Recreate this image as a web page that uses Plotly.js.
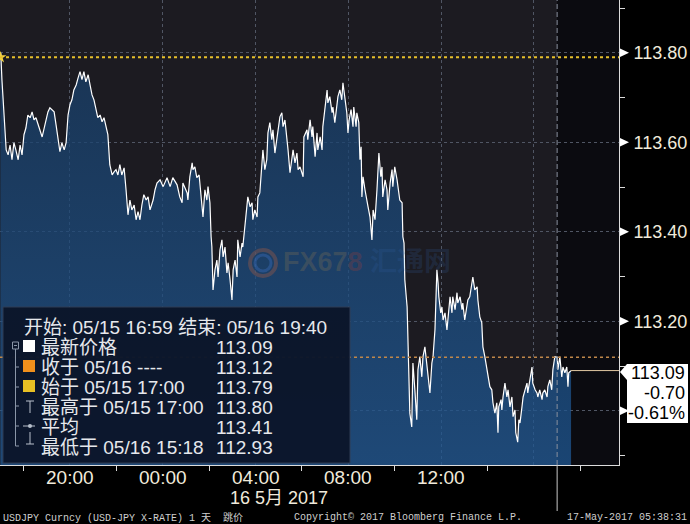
<!DOCTYPE html>
<html><head><meta charset="utf-8">
<script src="https://cdn.plot.ly/plotly-3.0.1.min.js"></script>
<style>html,body{margin:0;padding:0;background:#000;}#chart{width:690px;height:524px;}</style>
</head><body><div id="chart"></div>
<script>
// ---- data (USDJPY tick prices) ----
const day15Times = ['17:00','17:01','17:04','17:07','17:12','17:15','17:20','17:25','17:30','17:35','17:40','17:46','17:51','17:56',
 '18:01','18:06','18:11','18:17','18:22','18:27','18:32','18:37','18:42','18:48','18:53','18:58',
 '19:03','19:08','19:13','19:19','19:24','19:29','19:34','19:39','19:45','19:50','19:52','19:55',
 '20:00','20:05','20:10','20:16','20:21','20:26','20:31','20:36','20:41','20:47','20:52','20:57',
 '21:02','21:07','21:12','21:18','21:23','21:28','21:33','21:38','21:43','21:49','21:54','21:59',
 '22:04','22:09','22:14','22:20','22:25','22:30','22:35','22:40','22:46','22:51','22:56',
 '23:01','23:06','23:11','23:17','23:22','23:27','23:35','23:40','23:45','23:53'];
const day15Prices = [113.790,113.800,113.740,113.695,113.617,113.583,113.572,113.594,113.561,113.599,113.583,113.561,113.594,113.572,
 113.617,113.632,113.661,113.655,113.668,113.650,113.655,113.639,113.628,113.612,113.632,113.650,
 113.668,113.677,113.673,113.668,113.639,113.606,113.579,113.599,113.583,113.599,113.639,113.661,
 113.684,113.695,113.717,113.728,113.744,113.758,113.740,113.758,113.735,113.751,113.728,113.706,
 113.695,113.673,113.655,113.661,113.646,113.655,113.639,113.617,113.550,113.527,113.534,113.539,
 113.527,113.550,113.527,113.543,113.494,113.438,113.471,113.449,113.460,113.427,113.445,
 113.427,113.460,113.483,113.471,113.478,113.449,113.471,113.494,113.509,113.516];
const day16Times = ['00:01','00:11','00:19','00:26','00:37','00:44','00:50','00:52',
 '01:03','01:05','01:10','01:16','01:18','01:23','01:28','01:34','01:41','01:44','01:49','01:54','01:57',
 '02:02','02:05','02:07','02:10','02:15','02:20','02:23','02:28','02:33','02:36','02:41','02:46','02:49','02:54','02:59',
 '03:02','03:07','03:12','03:14','03:20','03:25','03:27','03:33','03:38','03:40','03:46','03:51','03:53','03:58',
 '04:04','04:06','04:11','04:17','04:19','04:24','04:29','04:32','04:37','04:42','04:45','04:50','04:55','04:58',
 '05:03','05:08','05:11','05:16','05:21','05:24','05:29','05:34','05:37','05:42','05:47','05:50','05:55',
 '06:03','06:05','06:13','06:15','06:21','06:26','06:28','06:34','06:39','06:41','06:47','06:52','06:54','06:59',
 '07:05','07:07','07:12','07:18','07:20','07:25','07:30','07:33','07:38','07:43','07:46','07:51','07:56','07:59',
 '08:02','08:07','08:12','08:14','08:20','08:22','08:27','08:30','08:33','08:35','08:38','08:43','08:48','08:51','08:56','08:58',
 '09:01','09:04','09:09','09:14','09:17','09:19','09:24','09:27','09:29','09:35','09:40','09:42','09:48','09:53','09:55',
 '10:00','10:06','10:08','10:13','10:19','10:21','10:24','10:26','10:32','10:34','10:39','10:44','10:47','10:52','10:57',
 '11:00','11:05','11:10','11:13','11:18','11:23','11:26','11:31','11:36','11:39','11:44','11:49','11:52','11:54','11:59',
 '12:02','12:05','12:10','12:15','12:18','12:23','12:28','12:30','12:36','12:41','12:43','12:49','12:54','12:56',
 '13:01','13:07','13:09','13:14','13:20','13:22','13:27','13:33','13:35','13:40','13:45','13:48','13:53','13:58',
 '14:01','14:06','14:11','14:14','14:19','14:24','14:27','14:29','14:35','14:37','14:40','14:45','14:50','14:53','14:58',
 '15:03','15:06','15:11','15:13','15:18','15:21','15:24','15:29','15:32','15:37','15:42','15:44','15:50','15:55','15:57',
 '16:03','16:08','16:10','16:15','16:21','16:23','16:28','16:34','16:36','16:41','16:46','16:49','16:54',
 '17:00','17:02','17:07','17:12','17:15','17:20','17:25','17:28','17:30','17:36'];
const day16Prices = [113.501,113.521,113.501,113.521,113.505,113.478,113.465,113.509,
 113.487,113.471,113.523,113.554,113.539,113.545,113.521,113.527,113.465,113.433,113.494,113.471,113.501,
 113.465,113.389,113.366,113.270,113.315,113.337,113.299,113.360,113.382,113.344,113.366,113.308,113.331,113.293,113.248,
 113.315,113.337,113.299,113.382,113.344,113.375,113.366,113.420,113.471,113.478,113.456,113.465,113.427,113.449,
 113.433,113.478,113.487,113.554,113.583,113.539,113.561,113.621,113.644,113.606,113.628,113.576,113.612,113.621,
 113.657,113.666,113.635,113.650,113.612,113.583,113.532,113.568,113.583,113.554,113.576,113.539,113.545,
 113.523,113.612,113.628,113.606,113.650,113.612,113.635,113.568,113.621,113.583,113.612,113.583,113.635,113.673,
 113.717,113.688,113.702,113.666,113.679,113.644,113.688,113.702,113.717,113.695,113.733,113.702,113.666,113.621,
 113.650,113.673,113.635,113.679,113.635,113.666,113.644,113.561,113.590,113.478,113.523,113.494,113.465,113.456,113.433,113.404,
 113.382,113.449,113.427,113.494,113.539,113.576,113.523,113.545,113.478,113.516,113.494,113.449,113.509,113.539,113.501,
 113.545,113.516,113.501,113.471,113.465,113.389,113.375,113.293,113.232,113.143,112.995,112.964,113.107,113.047,112.980,
 113.092,113.121,113.076,113.121,113.143,113.107,113.076,113.040,113.107,113.121,113.181,113.315,113.286,113.255,113.219,
 113.232,113.203,113.219,113.181,113.210,113.255,113.219,113.255,113.226,113.264,113.241,113.255,113.226,113.241,
 113.203,113.232,113.248,113.255,113.293,113.299,113.270,113.277,113.248,113.210,113.197,113.143,113.121,113.092,
 113.076,113.054,113.047,113.018,112.995,113.018,112.951,113.009,113.025,113.002,113.031,113.062,113.031,113.047,113.009,
 113.031,112.987,113.002,112.951,112.930,112.980,112.973,113.009,113.031,113.047,113.062,113.040,113.076,113.098,113.062,
 113.047,113.040,113.031,113.047,113.025,113.040,113.047,113.031,113.054,113.069,113.047,113.092,113.121,
 113.120,113.092,113.121,113.076,113.098,113.085,113.098,113.054,113.085,113.090];

const rangeStart = '2017-05-15 16:59';
const rangeEnd = '2017-05-16 19:40';
const sessionBreak = '2017-05-16 17:00';
const xGridTimes = ['2017-05-15 20:00','2017-05-16 00:00','2017-05-16 04:00','2017-05-16 08:00','2017-05-16 12:00','2017-05-16 16:00'];
const xLabelTimes = ['2017-05-15 20:00','2017-05-16 00:00','2017-05-16 04:00','2017-05-16 08:00','2017-05-16 12:00'];
const xLabelText = ['20:00','00:00','04:00','08:00','12:00'];
const xMinorTimes = ['2017-05-15 18:00','2017-05-15 22:00','2017-05-16 02:00','2017-05-16 06:00','2017-05-16 10:00','2017-05-16 14:00','2017-05-16 18:00'];
const yRange = [112.879, 113.918];
const yTickVals = [113.0, 113.2, 113.4, 113.6, 113.8];
const yTickText = ['', '113.20', '113.40', '113.60', '113.80'];
const yMinorVals = [112.9, 113.1, 113.3, 113.5, 113.7, 113.9];
const openPrice = 113.79, closePrice = 113.12, lastPrice = 113.09;
const tagLines = ['113.09', '-0.70', '-0.61%'];
const headerText = '开始: 05/15 16:59 结束: 05/16 19:40';
const legendLabels = ['最新价格', '收于 05/16 ----', '始于 05/15 17:00', '最高于 05/15 17:00', '平均', '最低于 05/16 15:18'];
const legendValues = ['113.09', '113.12', '113.79', '113.80', '113.41', '112.93'];
const dateLabel = '16 5月 2017';
const footerLeft = 'USDJPY Curncy (USD-JPY X-RATE) 1 天  跳价';
const footerMid = 'Copyright© 2017 Bloomberg Finance L.P.';
const footerRight = '17-May-2017 05:38:31';

const times = day15Times.map(t => '2017-05-15 ' + t).concat(day16Times.map(t => '2017-05-16 ' + t));
const prices = day15Prices.concat(day16Prices);

// ---- layout helpers (pixel -> paper) ----
const PW = 619, PH = 465;
const px = x => x / PW;
const py = y => (PH - y) / PH;
const FONT = '"Liberation Sans", "Noto Sans CJK SC", Arial, sans-serif';
const TXT = '#f0eadb';

const traces = [
  { x: times, y: prices, type: 'scatter', mode: 'lines', line: { color: '#ffffff', width: 1.2 },
    fill: 'tozeroy',
    fillgradient: { type: 'vertical', start: yRange[0], stop: yRange[1],
      colorscale: [[0, 'rgba(31,88,148,0.75)'], [1, 'rgba(24,58,96,0.75)']] },
    hoverinfo: 'skip' },
  { x: [times[0]], y: [prices[0]], type: 'scatter', mode: 'markers',
    marker: { symbol: 'star', size: 9, color: '#f2d040' }, hoverinfo: 'skip' }
];

const shapes = [];
shapes.push({ type: 'rect', xref: 'x', yref: 'paper', x0: sessionBreak, x1: rangeEnd, y0: 0, y1: 1,
  fillcolor: '#0b0b10', line: { width: 0 }, layer: 'below' });
shapes.push({ type: 'line', xref: 'x', yref: 'paper', x0: sessionBreak, x1: sessionBreak, y0: 0, y1: 1,
  line: { color: '#8a909e', width: 1, dash: '5px,3px' } });
shapes.push({ type: 'line', xref: 'x', yref: 'paper', x0: sessionBreak, x1: sessionBreak, y0: 0, y1: py(511),
  line: { color: '#c8c8c8', width: 1 } });
shapes.push({ type: 'line', xref: 'paper', yref: 'y', x0: 0, x1: 1, y0: openPrice, y1: openPrice,
  line: { color: '#e6c02c', width: 2, dash: 'dot' } });
shapes.push({ type: 'line', xref: 'paper', yref: 'y', x0: 0, x1: 1, y0: closePrice, y1: closePrice,
  line: { color: '#c0884a', width: 1.5, dash: 'dot' } });
shapes.push({ type: 'line', xref: 'x', yref: 'y', x0: times[times.length - 1], x1: rangeEnd, y0: lastPrice, y1: lastPrice,
  line: { color: '#e2c8a2', width: 1 } });
yTickVals.forEach(v => {
  shapes.push({ type: 'path', xref: 'paper', yref: 'y',
    path: `M${px(620)},${v - 0.0095} L${px(620)},${v + 0.0095} L${px(629)},${v} Z`,
    fillcolor: '#ffffff', line: { width: 0 } });
});
shapes.push({ type: 'path', xref: 'paper', yref: 'paper',
  path: `M${px(620)},${py(372)} L${px(627)},${py(364)} L${px(688)},${py(364)} L${px(688)},${py(423)} L${px(627)},${py(423)} L${px(627)},${py(380)} Z`,
  fillcolor: '#ffffff', line: { width: 0 } });
shapes.push({ type: 'rect', xref: 'paper', yref: 'paper', x0: px(3), x1: px(350), y0: py(463), y1: py(307),
  fillcolor: 'rgba(11,22,42,0.97)', line: { color: '#2e3c54', width: 1 } });
const TREE = '#8a96a8';
shapes.push({ type: 'rect', xref: 'paper', yref: 'paper', x0: px(12.5), x1: px(18.5), y0: py(349), y1: py(342),
  line: { color: TREE, width: 1 } });
shapes.push({ type: 'line', xref: 'paper', yref: 'paper', x0: px(14), x1: px(17), y0: py(345.5), y1: py(345.5), line: { color: TREE, width: 1 } });
shapes.push({ type: 'line', xref: 'paper', yref: 'paper', x0: px(15.5), x1: px(15.5), y0: py(349), y1: py(446), line: { color: TREE, width: 1 } });
[367, 387, 406, 426, 446].forEach(yy => shapes.push({ type: 'line', xref: 'paper', yref: 'paper',
  x0: px(15.5), x1: px(19), y0: py(yy), y1: py(yy), line: { color: TREE, width: 1 } }));
[['#ffffff', 340], ['#f0901c', 360], ['#e8c024', 380]].forEach(([c, yy]) => shapes.push({ type: 'rect',
  xref: 'paper', yref: 'paper', x0: px(23), x1: px(35), y0: py(yy + 12), y1: py(yy), fillcolor: c, line: { width: 0 } }));
const ICON = '#b8c0cc';
shapes.push({ type: 'line', xref: 'paper', yref: 'paper', x0: px(26), x1: px(34), y0: py(401), y1: py(401), line: { color: ICON, width: 1 } });
shapes.push({ type: 'line', xref: 'paper', yref: 'paper', x0: px(30), x1: px(30), y0: py(401), y1: py(413), line: { color: ICON, width: 1 } });
shapes.push({ type: 'line', xref: 'paper', yref: 'paper', x0: px(23), x1: px(35), y0: py(426), y1: py(426), line: { color: ICON, width: 1 } });
shapes.push({ type: 'circle', xref: 'paper', yref: 'paper', x0: px(28), x1: px(32), y0: py(428), y1: py(424), fillcolor: ICON, line: { width: 0 } });
shapes.push({ type: 'line', xref: 'paper', yref: 'paper', x0: px(30), x1: px(30), y0: py(432), y1: py(444), line: { color: ICON, width: 1 } });
shapes.push({ type: 'line', xref: 'paper', yref: 'paper', x0: px(26), x1: px(34), y0: py(444), y1: py(444), line: { color: ICON, width: 1 } });
shapes.push({ type: 'circle', xref: 'paper', yref: 'paper', x0: px(250), x1: px(276), y0: py(276), y1: py(250),
  line: { color: 'rgba(200,100,60,0.3)', width: 4 } });
shapes.push({ type: 'circle', xref: 'paper', yref: 'paper', x0: px(255), x1: px(271), y0: py(271), y1: py(255),
  line: { color: 'rgba(60,110,190,0.4)', width: 3 } });

const annotations = [];
const ann = (text, x, y, opts) => annotations.push(Object.assign({ text, xref: 'paper', yref: 'paper', x: px(x), y: py(y),
  xanchor: 'left', yanchor: 'middle', showarrow: false, font: { family: FONT, size: 19, color: '#e6e8ec' } }, opts || {}));
ann(headerText, 22, 327);
legendLabels.forEach((t, i) => ann(t, 39, 347 + i * 20));
legendValues.forEach((t, i) => ann(t, 214, 347 + i * 20));
tagLines.forEach((t, i) => ann(t, 687, 373 + i * 20, { xanchor: 'right', font: { family: FONT, size: 18, color: '#000000' } }));
// x tick labels placed on the date axis
xLabelTimes.forEach((t, i) => annotations.push({ text: xLabelText[i], xref: 'x', yref: 'paper', x: t, y: py(477),
  xanchor: 'center', yanchor: 'middle', showarrow: false, borderpad: 0, font: { family: FONT, size: 19, color: TXT } }));
ann(dateLabel, 279, 498, { xanchor: 'center', borderpad: 0, font: { family: FONT, size: 18, color: TXT } });
ann('<b><span style="color:rgba(150,125,80,0.5)">FX67</span><span style="color:rgba(170,60,50,0.55)">8</span> <span style="color:rgba(50,100,170,0.4)">汇通网</span></b>',
  281, 262, { font: { family: FONT, size: 27, color: 'rgba(150,125,80,0.5)' } });
const FOOT = { family: '"Liberation Mono", "Noto Sans CJK SC", monospace', size: 10, color: '#cfcfcf' };
ann(footerLeft, 1, 517, { font: FOOT });
ann(footerMid, 292, 517, { font: FOOT });
ann(footerRight, 689, 517, { xanchor: 'right', font: FOOT });

const GRID = '#505664';
const layout = {
  width: 690, height: 524,
  margin: { l: 0, r: 71, t: 0, b: 59, pad: 0 },
  paper_bgcolor: '#000000', plot_bgcolor: '#1c1b21',
  showlegend: false,
  xaxis: { type: 'date', range: [rangeStart, rangeEnd], tickmode: 'array', tickvals: xGridTimes,
    showticklabels: false, ticks: '', showgrid: true, gridcolor: GRID, griddash: '3px,3px', gridwidth: 1, zeroline: false,
    showline: true, linecolor: '#dcdcdc', linewidth: 1,
    minor: { tickmode: 'array', tickvals: xMinorTimes, ticks: 'outside', ticklen: 5, tickcolor: '#dcdcdc', tickwidth: 1, showgrid: false } },
  yaxis: { side: 'right', range: yRange, tickmode: 'array', tickvals: yTickVals, ticktext: yTickText,
    ticks: '', showgrid: true, gridcolor: GRID, griddash: '3px,3px', gridwidth: 1, zeroline: false,
    showline: true, linecolor: '#dcdcdc', linewidth: 1, ticklabelstandoff: 10,
    tickfont: { family: FONT, size: 18, color: TXT },
    minor: { tickmode: 'array', tickvals: yMinorVals, ticks: 'outside', ticklen: 5, tickcolor: '#dcdcdc', tickwidth: 1, showgrid: false } },
  shapes, annotations
};
Plotly.newPlot('chart', traces, layout, { staticPlot: true, displayModeBar: false });
</script></body></html>
